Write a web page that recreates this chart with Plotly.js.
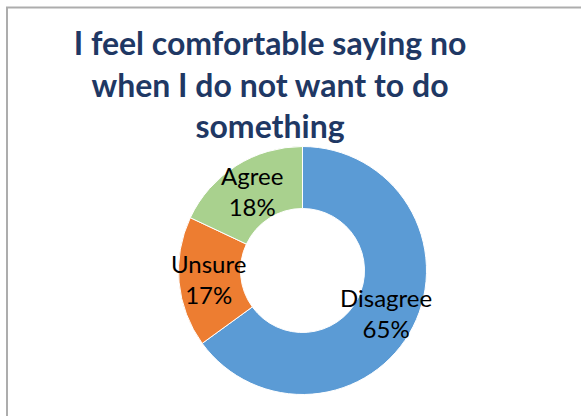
<!DOCTYPE html>
<html>
<head>
<meta charset="utf-8">
<script src="https://cdn.plot.ly/plotly-3.0.1.min.js"></script>
<style>html,body{margin:0;padding:0;background:#fff;}#chart{width:581px;height:416px;}</style>
</head>
<body>
<div id="chart"></div>
<script>
var categories = ["Disagree", "Unsure", "Agree"];
var percents = [65, 17, 18];
var sliceColors = ["#5B9BD5", "#ED7D31", "#A9D18E"];
var titleText = "I feel comfortable saying no<br>when I do not want to do<br>something";

var W = 581, H = 416;
var cx = 302.5, cy = 270.5, r = 124;
var labelRadius = 0.76;

var trace = {
  type: "pie",
  labels: categories,
  values: percents,
  hole: 0.5,
  sort: false,
  direction: "clockwise",
  rotation: 0,
  marker: {colors: sliceColors, line: {color: "#ffffff", width: 1}},
  textinfo: "none",
  hoverinfo: "none",
  showlegend: false,
  domain: {x: [(cx - r) / W, (cx + r) / W], y: [(H - cy - r) / H, (H - cy + r) / H]}
};

// data labels placed at each slice's mid-angle, computed from the values
var total = percents.reduce(function (a, b) { return a + b; }, 0);
var cum = 0;
var annotations = categories.map(function (c, i) {
  var mid = (cum + percents[i] / 2) / total * 2 * Math.PI;
  cum += percents[i];
  var px = cx + Math.sin(mid) * r * labelRadius;
  var py = cy - Math.cos(mid) * r * labelRadius;
  return {
    xref: "paper", yref: "paper",
    x: px / W, y: 1 - py / H,
    xanchor: "center", yanchor: "middle",
    text: c + "<br>" + percents[i] + "%",
    showarrow: false,
    font: {family: "Lato, 'Open Sans', sans-serif", size: 24, color: "#000000"}
  };
});

var layout = {
  width: W, height: H,
  margin: {l: 0, r: 0, t: 0, b: 0},
  paper_bgcolor: "#ffffff",
  title: {
    text: titleText,
    font: {family: "Lato, 'Open Sans', sans-serif", size: 32, color: "#1F3864", weight: "bold"},
    x: 270 / W, xanchor: "center",
    y: 1 - 55 / H, yanchor: "top",
    xref: "paper", yref: "paper"
  },
  annotations: annotations,
  shapes: [
    {type: "line", xref: "paper", yref: "paper", x0: 7 / W, x1: 7 / W, y0: 0, y1: 1 - 7.5 / H, line: {color: "#ADADAD", width: 2}},
    {type: "line", xref: "paper", yref: "paper", x0: 6 / W, x1: 1, y0: 1 - 7.5 / H, y1: 1 - 7.5 / H, line: {color: "#ADADAD", width: 2}}
  ]
};

Plotly.newPlot("chart", [trace], layout, {displayModeBar: false, staticPlot: true});
</script>
</body>
</html>
